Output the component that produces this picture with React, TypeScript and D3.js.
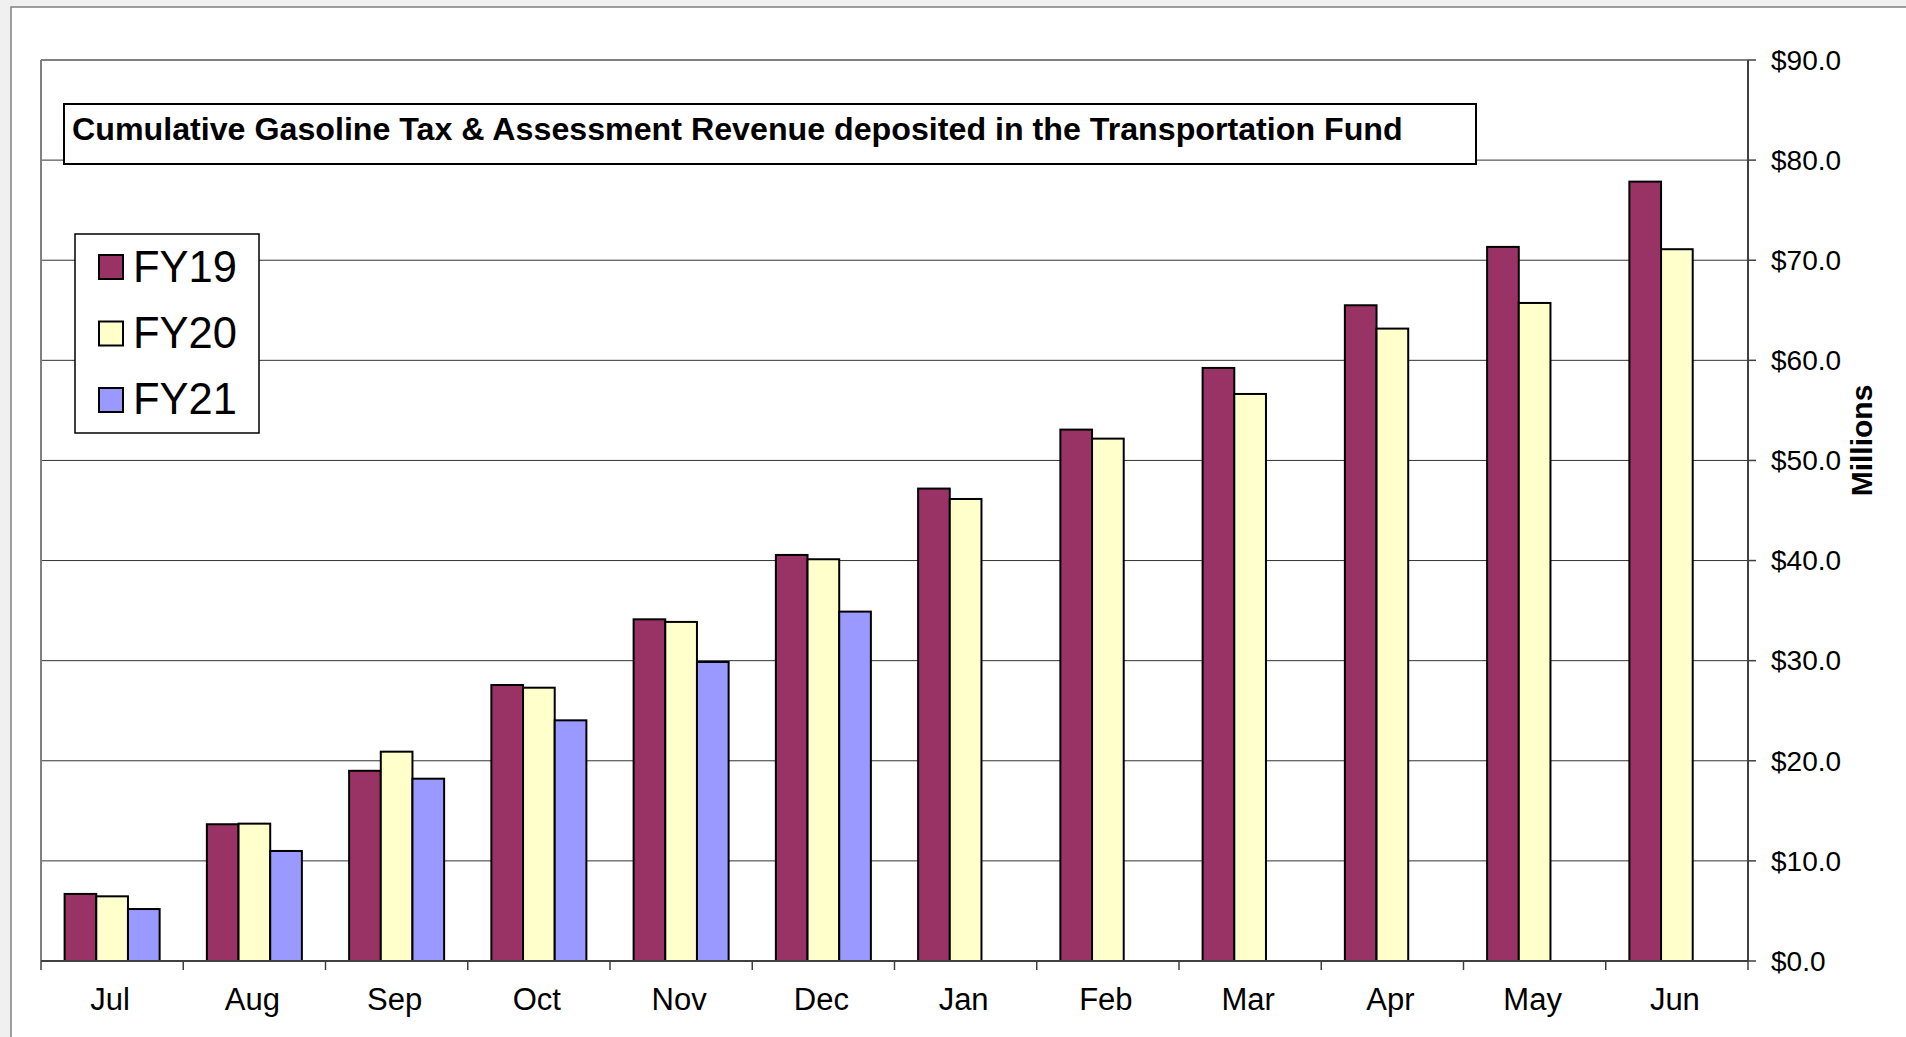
import React from "react";
import * as d3 from "d3";

const months = ["Jul", "Aug", "Sep", "Oct", "Nov", "Dec", "Jan", "Feb", "Mar", "Apr", "May", "Jun"];
const seriesNames = ["FY19", "FY20", "FY21"];
const fy19 = [6.7, 13.66, 19.0, 27.57, 34.13, 40.56, 47.19, 53.08, 59.24, 65.5, 71.33, 77.85];
const fy20 = [6.46, 13.72, 20.91, 27.3, 33.87, 40.13, 46.15, 52.18, 56.64, 63.17, 65.73, 71.1];
const fy21: (number | null)[] = [5.19, 10.99, 18.21, 24.04, 29.87, 34.9, null, null, null, null, null, null];
const yTicks = [0, 10, 20, 30, 40, 50, 60, 70, 80, 90];
const colors = ["#993366", "#FFFFCC", "#9999FF"];
const title = "Cumulative Gasoline Tax & Assessment Revenue deposited in the Transportation Fund";
const yAxisTitle = "Millions";

const FONT = "'Liberation Sans', Arial, Helvetica, sans-serif";

export default function App() {
  const W = 1906, H = 1037;
  const left = 41, right = 1748, top = 60, bottom = 961;
  const x = d3.scaleBand<string>().domain(months).range([left, right]).paddingInner(0.332).paddingOuter(0.166);
  const xs = d3.scaleBand<string>().domain(seriesNames).range([0, x.bandwidth()]);
  const y = d3.scaleLinear().domain([0, 90]).range([bottom, top]);
  const data = [fy19, fy20, fy21];
  const step = x.step();
  const boundaries = d3.range(months.length + 1).map((i) => left + i * step);
  const fmt = (v: number) => "$" + d3.format(".1f")(v);

  return (
    <svg width={W} height={H} style={{ position: "absolute", left: 0, top: 0, display: "block" }} fontFamily={FONT}>
      <rect x={0} y={0} width={W} height={H} fill="#f0f0f0" />
      <rect x={11} y={7} width={W} height={H} fill="#ffffff" stroke="#808080" strokeWidth={1.5} />
      {/* gridlines */}
      {yTicks.filter((t) => t > 0 && t < 90).map((t) => (
        <line key={"g" + t} x1={left} x2={right} y1={y(t)} y2={y(t)} stroke="#333" strokeWidth={1} />
      ))}
      {/* plot border left/top */}
      <line x1={left} x2={left} y1={top} y2={bottom} stroke="#808080" strokeWidth={2} />
      <line x1={left} x2={right} y1={top} y2={top} stroke="#808080" strokeWidth={2} />
      {/* bars */}
      {data.map((series, si) =>
        series.map((v, i) =>
          v == null ? null : (
            <rect
              key={si + "-" + i}
              x={(x(months[i]) as number) + (xs(seriesNames[si]) as number)}
              y={y(v)}
              width={xs.bandwidth()}
              height={y(0) - y(v)}
              fill={colors[si]}
              stroke="#000"
              strokeWidth={2}
            />
          )
        )
      )}
      {/* right axis */}
      <line x1={right} x2={right} y1={top} y2={bottom} stroke="#404040" strokeWidth={2} />
      {yTicks.map((t) => (
        <g key={"yt" + t}>
          <line x1={right} x2={right + 8} y1={y(t)} y2={y(t)} stroke="#404040" strokeWidth={1.5} />
          <text x={1771} y={y(t)} dy="0.35em" fontSize={28} fill="#000">{fmt(t)}</text>
        </g>
      ))}
      <text
        transform={`translate(1872, ${(top + bottom) / 2 - 70}) rotate(-90)`}
        textAnchor="middle"
        fontSize={30}
        fontWeight="bold"
        fill="#000"
      >
        {yAxisTitle}
      </text>
      {/* bottom axis */}
      <line x1={left} x2={right} y1={bottom} y2={bottom} stroke="#404040" strokeWidth={2} />
      {boundaries.map((bx, i) => (
        <line key={"xt" + i} x1={bx} x2={bx} y1={bottom} y2={bottom + 9} stroke="#404040" strokeWidth={1.5} />
      ))}
      {months.map((m) => (
        <text key={m} x={(x(m) as number) + x.bandwidth() / 2 - 2} y={1010} textAnchor="middle" fontSize={31} fill="#000">
          {m}
        </text>
      ))}
      {/* title box */}
      <rect x={64} y={104} width={1412} height={60} fill="#fff" stroke="#000" strokeWidth={2} />
      <text x={72} y={140} fontSize={32.2} fontWeight="bold" fill="#000">{title}</text>
      {/* legend */}
      <rect x={75} y={234} width={184} height={199} fill="#fff" stroke="#000" strokeWidth={1.5} />
      {seriesNames.map((s, i) => (
        <g key={s}>
          <rect x={99} y={255 + i * 66.5} width={24} height={24} fill={colors[i]} stroke="#000" strokeWidth={2} />
          <text x={133} y={282 + i * 66} fontSize={43.5} fill="#000">{s}</text>
        </g>
      ))}
    </svg>
  );
}
